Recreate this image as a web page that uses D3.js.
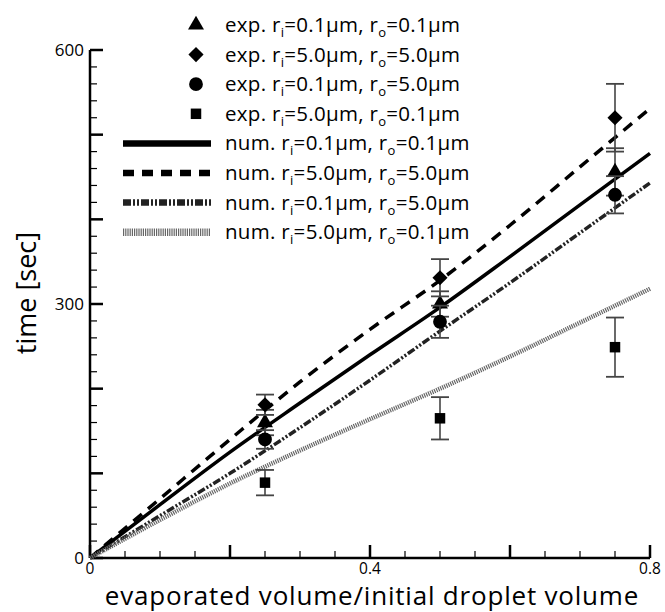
<!DOCTYPE html>
<html>
<head>
<meta charset="utf-8">
<script src="https://cdn.jsdelivr.net/npm/d3@7/dist/d3.min.js"></script>
<style>
  body{margin:0;background:#fff;}
  svg{display:block;font-family:"Open Sans",sans-serif;}
</style>
</head>
<body>
<svg width="665" height="612"></svg>
<script>
// experimental points
const expX=[0.25,0.5,0.75];
const expA=[160,300,456];   // ri=0.1, ro=0.1 (triangle)
const errA=[15,15,28];
const expB=[181,331,520];   // ri=5.0, ro=5.0 (diamond)
const errB=[12,22,40];
const expC=[140,279,429];   // ri=0.1, ro=5.0 (circle)
const errC=[11,19,22];
const expD=[89,165,249];    // ri=5.0, ro=0.1 (square)
const errD=[15,25,35];

// numerical curves
const numX=[0,0.1,0.2,0.3,0.4,0.5,0.6,0.7,0.8];
const numA=[0,63,125,183,240,296,356,417,478];
const numB=[0,70,140,208,270,328,393,462,531];
const numC=[0,50,100,154,210,268,325,384,443];
const numD=[0,45,88,127,164,200,238,278,318];

const legendRi=['0.1','5.0','0.1','5.0'];
const legendRo=['0.1','5.0','5.0','0.1'];

const xTicks=[0,0.4,0.8];
const yTicks=[0,300,600];

const svg=d3.select('svg');
const x=d3.scaleLinear().domain([0,0.8]).range([90,650]);
const y=d3.scaleLinear().domain([0,600]).range([558,50]);

// axes
const gx=svg.append('g').attr('transform','translate(0,558)');
gx.append('line').attr('x1',90).attr('x2',650).attr('stroke','#000').attr('stroke-width',2.5);
d3.range(0,0.8001,0.05).forEach(v=>{
  const major=Math.abs(v*10-Math.round(v*10))<1e-6 && Math.round(v*10)%2===0;
  gx.append('line').attr('x1',x(v)).attr('x2',x(v)).attr('y1',0).attr('y2',major?-13:-7)
    .attr('stroke','#000').attr('stroke-width',major?2.5:1.2);
});
gx.selectAll('text.tl').data(xTicks).enter().append('text')
  .attr('x',d=>x(d)).attr('y',16).attr('text-anchor','middle')
  .attr('font-size',15.5).text(d=>d===0?'0':d.toString());

const gy=svg.append('g').attr('transform','translate(90,0)');
gy.append('line').attr('y1',y(0)).attr('y2',y(600)).attr('stroke','#000').attr('stroke-width',2.5);
d3.range(0,601,20).forEach(v=>{
  const major=v%100===0;
  gy.append('line').attr('y1',y(v)).attr('y2',y(v)).attr('x1',0).attr('x2',major?13:7)
    .attr('stroke','#000').attr('stroke-width',major?2.5:1.2);
});
gy.selectAll('text.tl').data(yTicks).enter().append('text')
  .attr('x',-6).attr('y',d=>y(d)+6).attr('text-anchor','end')
  .attr('font-size',17).text(d=>d);

svg.append('text').attr('x',372).attr('y',605).attr('text-anchor','middle')
  .attr('font-size',26).attr('letter-spacing',0.8).text('evaporated volume/initial droplet volume');
svg.append('text').attr('transform','translate(36,293) rotate(-90)').attr('text-anchor','middle')
  .attr('font-size',27).text('time [sec]');

// numerical lines
const styles=[
  {data:numA,stroke:'#000',w:3.5,dash:null},
  {data:numB,stroke:'#000',w:3.5,dash:'11,8'},
  {data:numC,stroke:'#222',w:3.5,dash:'8,2,2,2,2,2'},
  {data:numD,stroke:'#666',w:4.5,dash:'1.2,1'}
];
const line=d3.line().x(d=>x(d[0])).y(d=>y(d[1])).curve(d3.curveMonotoneX);
styles.forEach(s=>{
  svg.append('path').datum(numX.map((v,i)=>[v,s.data[i]]))
    .attr('d',line).attr('fill','none').attr('stroke',s.stroke)
    .attr('stroke-width',s.w).attr('stroke-dasharray',s.dash);
});

// experimental points with error bars
const sets=[
  {v:expA,e:errA,sym:d3.symbolTriangle,size:110,rot:0},
  {v:expB,e:errB,sym:d3.symbolSquare,size:115,rot:45},
  {v:expC,e:errC,sym:d3.symbolCircle,size:150,rot:0},
  {v:expD,e:errD,sym:d3.symbolSquare,size:110,rot:0}
];
sets.forEach(s=>{
  const g=svg.append('g');
  expX.forEach((xv,i)=>{
    const top=y(s.v[i]+s.e[i]), bot=y(s.v[i]-s.e[i]);
    g.append('line').attr('x1',x(xv)).attr('x2',x(xv)).attr('y1',top).attr('y2',bot)
      .attr('stroke','#444').attr('stroke-width',1.6);
    [top,bot].forEach(yy=>g.append('line').attr('x1',x(xv)-9).attr('x2',x(xv)+9)
      .attr('y1',yy).attr('y2',yy).attr('stroke','#444').attr('stroke-width',1.8));
  });
  g.selectAll('path').data(expX).enter().append('path')
    .attr('d',d3.symbol().type(s.sym).size(s.size))
    .attr('transform',(d,i)=>`translate(${x(d)},${y(s.v[i])}) rotate(${s.rot})`).attr('fill','#000');
});

// legend
const leg=svg.append('g');
const rowY=i=>25+i*29.6;
const addLabel=(i,kind,ri,ro)=>{
  const t=leg.append('text').attr('x',225).attr('y',rowY(i)+7)
    .attr('font-size',20.5).attr('letter-spacing',0.3);
  t.append('tspan').text(kind+' r');
  t.append('tspan').attr('font-size',13).attr('dy',5).text('i');
  t.append('tspan').attr('dy',-5).text('='+ri+'μm, r');
  t.append('tspan').attr('font-size',13).attr('dy',5).text('o');
  t.append('tspan').attr('dy',-5).text('='+ro+'μm');
};
sets.forEach((s,i)=>{
  leg.append('path').attr('d',d3.symbol().type(s.sym).size(s.size))
    .attr('transform',`translate(196,${rowY(i)}) rotate(${s.rot})`).attr('fill','#000');
  addLabel(i,'exp.',legendRi[i],legendRo[i]);
});
styles.forEach((s,i)=>{
  leg.append('line').attr('x1',123).attr('x2',211).attr('y1',rowY(i+4)).attr('y2',rowY(i+4))
    .attr('stroke',s.stroke).attr('stroke-width',s.w+3).attr('stroke-dasharray',s.dash);
  addLabel(i+4,'num.',legendRi[i],legendRo[i]);
});
</script>
</body>
</html>
